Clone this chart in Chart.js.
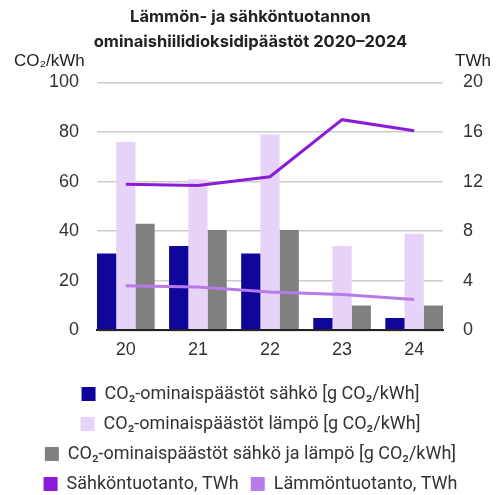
<!DOCTYPE html>
<html><head><meta charset="utf-8">
<script src="https://cdn.jsdelivr.net/npm/chart.js@4"></script>
<style>html,body{margin:0;padding:0;background:#fff}</style>
</head><body>
<canvas id="c" width="501" height="495"></canvas>
<script>
const categories = ['20', '21', '22', '23', '24'];
const sahkoCO2 = [31, 34, 31, 5, 5];
const lampoCO2 = [76, 61, 79, 34, 39];
const yhteensaCO2 = [43, 40.5, 40.5, 10, 10];
const sahkontuotanto = [11.8, 11.7, 12.4, 17.0, 16.1];
const lammontuotanto = [3.6, 3.5, 3.1, 2.9, 2.5];
const leftTickMax = 100, leftStep = 20;
const rightTickMax = 20, rightStep = 4;

const axisTitles = {
  id: 'axisTitles',
  afterDraw(chart) {
    const ctx = chart.ctx, a = chart.chartArea;
    ctx.save();
    ctx.font = '17px "Liberation Sans", Arial, sans-serif';
    ctx.fillStyle = '#222';
    ctx.textBaseline = 'middle';
    ctx.textAlign = 'left';
    ctx.fillText('CO₂/kWh', 14, a.top - 21);
    ctx.textAlign = 'right';
    ctx.fillText('TWh', 491, a.top - 21);
    ctx.restore();
  }
};

new Chart(document.getElementById('c'), {
  data: {
    labels: categories,
    datasets: [
      { type: 'bar', label: 'CO₂-ominaispäästöt sähkö [g CO₂/kWh]', data: sahkoCO2, backgroundColor: '#10079a', yAxisID: 'y', order: 2 },
      { type: 'bar', label: 'CO₂-ominaispäästöt lämpö [g CO₂/kWh]', data: lampoCO2, backgroundColor: '#e7d2f8', yAxisID: 'y', order: 2 },
      { type: 'bar', label: 'CO₂-ominaispäästöt sähkö ja lämpö [g CO₂/kWh]', data: yhteensaCO2, backgroundColor: '#808080', yAxisID: 'y', order: 2 },
      { type: 'line', label: 'Sähköntuotanto, TWh', data: sahkontuotanto, borderColor: '#8a1cd8', backgroundColor: '#8a1cd8', borderWidth: 3, pointRadius: 0, tension: 0, yAxisID: 'y2', order: 1 },
      { type: 'line', label: 'Lämmöntuotanto, TWh', data: lammontuotanto, borderColor: '#b87ae8', backgroundColor: '#b87ae8', borderWidth: 3, pointRadius: 0, tension: 0, yAxisID: 'y2', order: 1 }
    ]
  },
  options: {
    responsive: false,
    animation: false,
    datasets: { bar: { categoryPercentage: 0.8, barPercentage: 1.0 } },
    layout: { padding: { left: 0, right: 0, bottom: -8, top: 0 } },
    plugins: {
      title: {
        display: true,
        text: ['Lämmön- ja sähköntuotannon', 'ominaishiilidioksidipäästöt 2020–2024'],
        font: { family: 'Inter, Roboto, sans-serif', size: 16.5, weight: 'bold', lineHeight: 1.5 },
        color: '#222',
        padding: { top: 5, bottom: 28 }
      },
      legend: {
        position: 'bottom',
        title: { display: true, text: '', font: { size: 0 }, padding: { top: 0, bottom: 3 } },
        labels: {
          boxWidth: 14, boxHeight: 14, padding: 12, color: '#333',
          font: { family: 'Roboto, sans-serif', size: 18 },
          generateLabels(chart) {
            const ds = chart.data.datasets;
            return Chart.defaults.plugins.legend.labels.generateLabels(chart)
              .sort((a, b) => a.datasetIndex - b.datasetIndex)
              .map(l => Object.assign(l, { lineWidth: 0, fillStyle: ds[l.datasetIndex].type === 'line' ? ds[l.datasetIndex].borderColor : l.fillStyle }));
          }
        }
      },
      tooltip: { enabled: false }
    },
    scales: {
      x: {
        offset: true,
        grid: { display: false, drawTicks: false },
        border: { display: true, color: '#222', width: 2, z: 1 },
        ticks: { color: '#333', font: { family: '"Liberation Sans", Arial, sans-serif', size: 18 }, padding: 9 },
        afterBuildTicks(s) { s._startValue = -0.4; s._valueRange = 4.8; }
      },
      y: {
        position: 'left', min: 0, max: leftTickMax,
        ticks: { stepSize: leftStep, color: '#333', font: { family: '"Liberation Sans", Arial, sans-serif', size: 18 }, padding: 18 },
        grid: { color: '#cccccc', lineWidth: 1.5, drawTicks: false },
        border: { display: false },
        afterFit(s) { s.width = 97; }
      },
      y2: {
        position: 'right', min: 0, max: rightTickMax,
        ticks: { stepSize: rightStep, color: '#333', font: { family: '"Liberation Sans", Arial, sans-serif', size: 18 }, padding: 20 },
        grid: { display: false, drawTicks: false },
        border: { display: false },
        afterFit(s) { s.width = 58; }
      }
    }
  },
  plugins: [axisTitles]
});
</script>
</body></html>
